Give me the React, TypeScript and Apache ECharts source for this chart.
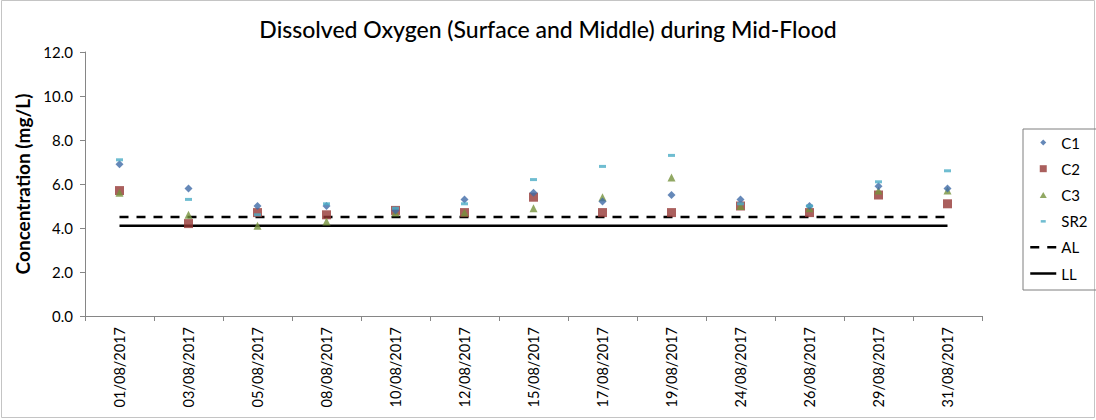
import React, { useEffect, useRef } from "react";
import * as echarts from "echarts";

const categories = [
  "01/08/2017", "03/08/2017", "05/08/2017", "08/08/2017", "10/08/2017", "12/08/2017", "15/08/2017",
  "17/08/2017", "19/08/2017", "24/08/2017", "26/08/2017", "29/08/2017", "31/08/2017",
];
const c1 = [6.9, 5.8, 5.0, 5.0, 4.8, 5.3, 5.6, 5.2, 5.5, 5.3, 5.0, 5.9, 5.8];
const c2 = [5.7, 4.2, 4.7, 4.6, 4.8, 4.7, 5.4, 4.7, 4.7, 5.0, 4.7, 5.5, 5.1];
const c3 = [5.6, 4.6, 4.1, 4.3, 4.7, 4.7, 4.9, 5.4, 6.3, 5.0, 4.9, 5.7, 5.7];
const sr2 = [7.1, 5.3, 4.6, 5.1, 4.9, 5.1, 6.2, 6.8, 7.3, 5.1, 5.0, 6.1, 6.6];
const al = categories.map(() => 4.5);
const ll = categories.map(() => 4.1);
const yTicks = { min: 0, max: 12, interval: 2 };

const FONT = "Lato, 'Open Sans', sans-serif";
const PAD = "M0,0M26,14";

export default function App() {
  const ref = useRef<HTMLDivElement>(null);
  useEffect(() => {
    document.body.style.margin = "0";
    const chart = echarts.init(ref.current!, null, { renderer: "svg" });
    const axisGray = "#868686";
    chart.setOption({
      animation: false,
      backgroundColor: "#fff",
      textStyle: { fontFamily: FONT },
      title: {
        text: "Dissolved Oxygen (Surface and Middle) during Mid-Flood",
        left: "center",
        top: 12,
        textStyle: { fontFamily: FONT, fontSize: 23, fontWeight: 500, color: "#000" },
      },
      graphic: [
        {
          type: "rect",
          shape: { x: 1.5, y: 0.5, width: 1093, height: 417 },
          style: { fill: "none", stroke: "#c4c4c4", lineWidth: 1 },
          silent: true,
        },
      ],
      legend: {
        orient: "vertical",
        left: 1023,
        top: 129,
        width: 67,
        padding: [6, 10, 9, 6],
        borderColor: "#7f7f7f",
        borderWidth: 1,
        itemWidth: 26,
        itemHeight: 14,
        itemGap: 11.2,
        textStyle: { fontFamily: FONT, fontSize: 15, color: "#000", lineHeight: 14 },
        data: [
          { name: "C1", icon: "path://" + PAD + "M13,4L16,7L13,10L10,7Z" },
          { name: "C2", icon: "path://" + PAD + "M9.5,3.5h7v7h-7Z" },
          { name: "C3", icon: "path://" + PAD + "M13,4L16.5,10L9.5,10Z" },
          { name: "SR2", icon: "path://" + PAD + "M10.5,6h5v2.5h-5Z" },
          { name: "AL", itemStyle: { opacity: 0 }, lineStyle: { type: [9, 8], width: 2.5, color: "#000" } },
          { name: "LL", itemStyle: { opacity: 0 }, lineStyle: { type: "solid", width: 2.5, color: "#000" } },
        ],
      },
      grid: { left: 85, right: 114, top: 52, bottom: 104 },
      xAxis: {
        type: "category",
        data: categories,
        boundaryGap: true,
        axisLine: { lineStyle: { color: axisGray, width: 1 } },
        axisTick: { show: true, interval: 0, length: 5, lineStyle: { color: axisGray } },
        axisLabel: { interval: 0, rotate: 90, fontSize: 14.5, color: "#000", fontFamily: FONT, margin: 11 },
        splitLine: { show: false },
      },
      yAxis: {
        type: "value",
        min: yTicks.min,
        max: yTicks.max,
        interval: yTicks.interval,
        name: "Concentration (mg/L)",
        nameLocation: "middle",
        nameGap: 50,
        nameTextStyle: { fontFamily: FONT, fontSize: 19, fontWeight: "bold", color: "#000" },
        axisLine: { show: true, lineStyle: { color: axisGray, width: 1 } },
        axisTick: { show: true, length: 5, lineStyle: { color: axisGray } },
        axisLabel: {
          fontSize: 15,
          color: "#000",
          fontFamily: FONT,
          margin: 12,
          formatter: (v: number) => v.toFixed(1),
        },
        splitLine: { show: false },
      },
      series: [
        {
          name: "C1", type: "scatter", data: c1, symbol: "diamond", symbolSize: 8,
          itemStyle: { color: "#3E6AA6" }, z: 5,
        },
        {
          name: "C2", type: "scatter", data: c2, symbol: "rect", symbolSize: 9,
          itemStyle: { color: "#953734" }, z: 3,
        },
        {
          name: "C3", type: "scatter", data: c3, symbol: "triangle", symbolSize: 8,
          itemStyle: { color: "#76923C" }, z: 4,
        },
        {
          name: "SR2", type: "scatter", data: sr2, symbol: "rect", symbolSize: [7, 3],
          itemStyle: { color: "#4BACC6" }, z: 6,
        },
        {
          name: "AL", type: "line", data: al, symbol: "none", showSymbol: false,
          lineStyle: { color: "#000", width: 2.5, type: [9, 8] }, itemStyle: { color: "#000" }, z: 2,
        },
        {
          name: "LL", type: "line", data: ll, symbol: "none", showSymbol: false,
          lineStyle: { color: "#000", width: 2.5, type: "solid" }, itemStyle: { color: "#000" }, z: 2,
        },
      ],
    });
    return () => chart.dispose();
  }, []);
  return <div ref={ref} style={{ width: 1096, height: 420 }} />;
}
